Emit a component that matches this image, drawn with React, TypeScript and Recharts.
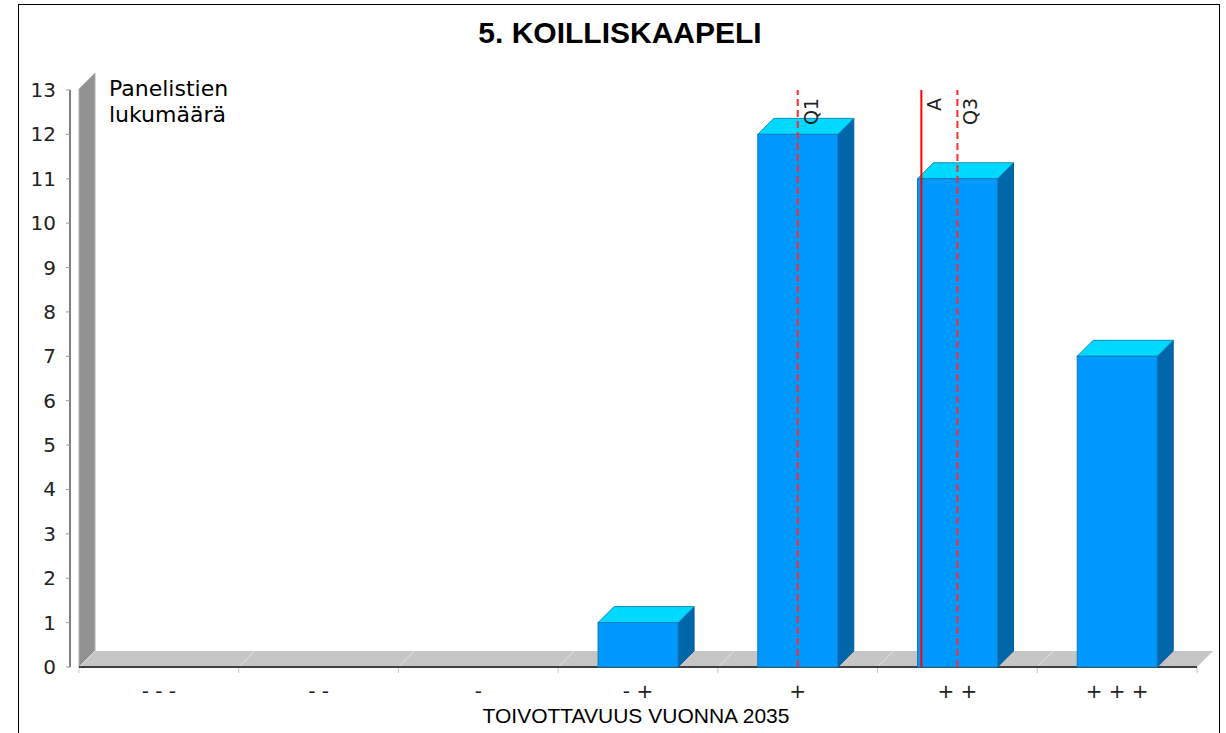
import React from 'react';
import { BarChart, Bar, XAxis, YAxis, ReferenceLine } from 'recharts';

const CATEGORIES = ['- - -', '- -', '-', '- +', '+', '+ +', '+ + +'];
const COUNTS = [0, 0, 0, 1, 12, 11, 7];
const Y_TICKS = [0, 1, 2, 3, 4, 5, 6, 7, 8, 9, 10, 11, 12, 13];
const TITLE = '5. KOILLISKAAPELI';
const Y_LABEL = ['Panelistien', 'lukumäärä'];
const X_LABEL = 'TOIVOTTAVUUS VUONNA 2035';
const Q1_CATEGORY = '+';
const Q3_CATEGORY = '+ +';

const W = 1226;
const H = 733;
const PLOT = { left: 79, top: 90, right: 1197, bottom: 667 };
const DEPTH = 16;

const total = COUNTS.reduce((a, b) => a + b, 0);
const meanIdx = COUNTS.reduce((s, v, i) => s + v * i, 0) / total;

const data = CATEGORIES.map((name, i) => ({ name, value: COUNTS[i], idx: i }));

const markers = [
  { label: 'Q1', x: CATEGORIES.indexOf(Q1_CATEGORY), dashed: true },
  { label: 'A', x: meanIdx, dashed: false },
  { label: 'Q3', x: CATEGORIES.indexOf(Q3_CATEGORY), dashed: true },
];

function Backdrop() {
  const { left: L, top: T, right: R, bottom: B } = PLOT;
  const band = (R - L) / CATEGORIES.length;
  const bounds = CATEGORIES.map((_, i) => L + i * band).concat(R);
  return (
    <svg width={W} height={H} style={{ position: 'absolute', left: 0, top: 0 }}>
      <rect x={18.5} y={4.5} width={1201} height={760} fill="#fff" stroke="#000" />
      <text
        x={620}
        y={43}
        textAnchor="middle"
        fontFamily="Liberation Sans"
        fontWeight="bold"
        fontSize={30}
        fill="#000"
      >
        {TITLE}
      </text>
      {/* left wall */}
      <polygon
        points={`${L},${T - 1} ${L + DEPTH},${T - 1 - DEPTH} ${L + DEPTH},${B - DEPTH} ${L},${B}`}
        fill="#929292"
        stroke="#b0b0b0"
        strokeWidth={1}
      />
      {/* floor */}
      <polygon
        points={`${L},${B} ${L + DEPTH},${B - DEPTH} ${R + DEPTH},${B - DEPTH} ${R},${B}`}
        fill="#c6c6c6"
      />
      {bounds.map((bx, i) => (
        <g key={i}>
          <line x1={bx} y1={B} x2={bx + DEPTH} y2={B - DEPTH} stroke="#e2e2e2" strokeWidth={1} />
          <line x1={bx} y1={B} x2={bx} y2={B + 6} stroke="#c8c8c8" strokeWidth={1} />
        </g>
      ))}
      <line x1={L} y1={B} x2={R} y2={B} stroke="#404040" strokeWidth={2} />
      {/* y axis line */}
      <line x1={70} y1={T} x2={70} y2={B} stroke="#000" strokeWidth={1} />
      {Y_LABEL.map((t, i) => (
        <text key={t} x={109} y={96 + i * 26} fontFamily="DejaVu Sans" fontSize={22} fill="#000">
          {t}
        </text>
      ))}
      <text x={636} y={723} textAnchor="middle" fontFamily="Liberation Sans" fontSize={21} fill="#000">
        {X_LABEL}
      </text>
    </svg>
  );
}

function Bar3D(props: any) {
  const { x, y, width, height } = props;
  if (!height || height <= 0) return null;
  const d = DEPTH;
  return (
    <g>
      <polygon
        points={`${x + width},${y} ${x + width + d},${y - d} ${x + width + d},${y + height - d} ${x + width},${y + height}`}
        fill="#0066aa"
        stroke="#005c99"
        strokeWidth={1}
      />
      <polygon
        points={`${x},${y} ${x + d},${y - d} ${x + width + d},${y - d} ${x + width},${y}`}
        fill="#00d9ff"
        stroke="#0b8fc2"
        strokeWidth={1}
      />
      <rect x={x} y={y} width={width} height={height} fill="#0099ff" stroke="#0a7bbf" strokeWidth={1} />
    </g>
  );
}

function YTick(props: any) {
  const { y, payload } = props;
  return (
    <g>
      <line x1={66} x2={70} y1={y} y2={y} stroke="#9a9a9a" />
      <text x={56} y={y} dy={7} textAnchor="end" fontFamily="DejaVu Sans" fontSize={20} fill="#222">
        {payload.value}
      </text>
    </g>
  );
}

function XTick(props: any) {
  const { x, payload } = props;
  return (
    <text x={x} y={698} textAnchor="middle" fontFamily="DejaVu Sans" fontSize={20} fill="#222">
      {payload.value}
    </text>
  );
}

function MarkerLabel(props: any) {
  const { viewBox, text } = props;
  if (!viewBox) return null;
  const x = viewBox.x + 20;
  const y = viewBox.y + 8;
  return (
    <text
      x={x}
      y={y}
      transform={`rotate(-90 ${x} ${y})`}
      textAnchor="end"
      fontFamily="DejaVu Sans"
      fontSize={19}
      fill="#222"
    >
      {text}
    </text>
  );
}

export default function App() {
  return (
    <div style={{ position: 'absolute', left: 0, top: 0, width: W, height: H, background: '#fff' }}>
      <Backdrop />
      <div style={{ position: 'absolute', left: 0, top: 0 }}>
        <BarChart
          width={W}
          height={H}
          data={data}
          margin={{ top: PLOT.top, right: W - PLOT.right, bottom: 0, left: 0 }}
          barCategoryGap="25%"
        >
          <XAxis
            dataKey="name"
            height={H - PLOT.bottom}
            axisLine={false}
            tickLine={false}
            interval={0}
            tick={XTick}
          />
          <XAxis
            xAxisId="pos"
            dataKey="idx"
            type="number"
            domain={[-0.5, CATEGORIES.length - 0.5]}
            allowDataOverflow
            hide
          />
          <YAxis
            width={PLOT.left}
            domain={[0, 13]}
            ticks={Y_TICKS}
            interval={0}
            axisLine={false}
            tickLine={false}
            tick={YTick}
          />
          <Bar dataKey="value" shape={<Bar3D />} isAnimationActive={false} />
          {markers.map((m) => (
            <ReferenceLine
              key={m.label}
              xAxisId="pos"
              x={m.x}
              stroke={m.dashed ? '#ff2a2a' : '#ff0000'}
              strokeWidth={2}
              strokeDasharray={m.dashed ? '7 4' : undefined}
              label={<MarkerLabel text={m.label} />}
            />
          ))}
        </BarChart>
      </div>
    </div>
  );
}
